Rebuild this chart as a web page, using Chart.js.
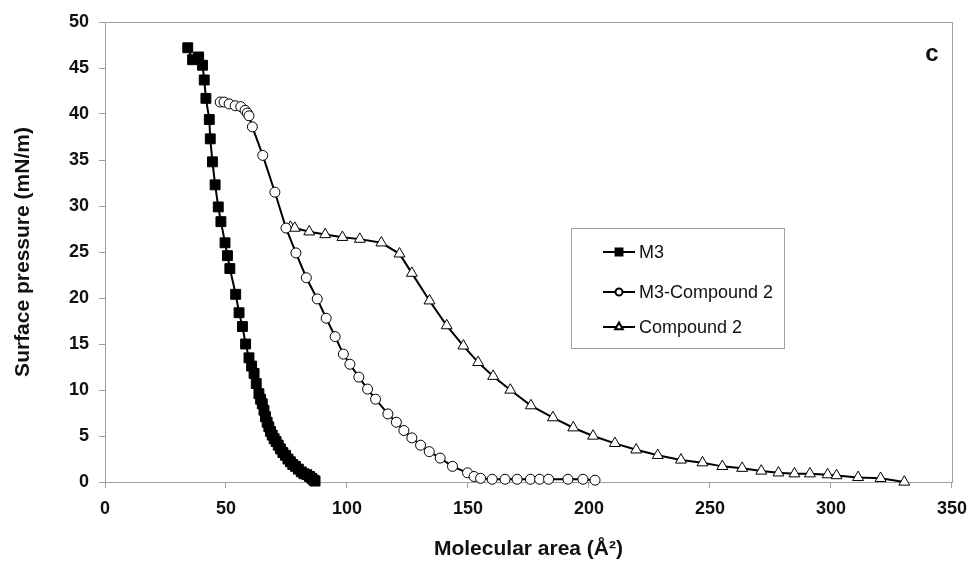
<!DOCTYPE html>
<html>
<head>
<meta charset="utf-8">
<script src="https://cdn.jsdelivr.net/npm/chart.js@4.4.1/dist/chart.umd.min.js"></script>
<style>
  html, body { margin: 0; padding: 0; background: #fff; }
  #wrap { width: 977px; height: 562px; }
</style>
</head>
<body>
<div id="wrap"><canvas id="isotherm"></canvas></div>
<script>
// M3 (filled squares)
const m3Area = [34.2, 36.2, 38.7, 40.3, 41.0, 41.7, 43.1, 43.5, 44.4, 45.5, 46.8, 47.9, 49.6, 50.6, 51.6,
  54.0, 55.4, 56.8, 58.1, 59.5, 60.6, 61.6, 62.5, 63.6, 64.3, 65.0, 65.7, 66.3, 67.0, 67.7, 68.4, 69.1,
  69.9, 70.7, 71.6, 72.5, 73.5, 74.6, 75.6, 76.6, 77.6, 78.7, 79.9, 81.1, 82.2, 83.4, 84.5, 85.5, 86.3, 86.8];
const m3Pressure = [47.2, 45.9, 46.2, 45.3, 43.7, 41.7, 39.4, 37.3, 34.8, 32.3, 29.9, 28.3, 26.0, 24.6, 23.2,
  20.4, 18.4, 16.9, 15.0, 13.5, 12.6, 11.8, 10.7, 9.6, 9.0, 8.5, 7.8, 7.1, 6.5, 6.0, 5.5, 5.1,
  4.7, 4.4, 4.0, 3.6, 3.2, 2.9, 2.5, 2.2, 1.9, 1.7, 1.4, 1.1, 0.9, 0.8, 0.6, 0.4, 0.2, 0.1];

// M3-Compound 2 (open circles)
const mixArea = [47.6, 49.2, 51.3, 53.8, 56.1, 57.9, 58.8, 59.5, 60.9, 65.2, 70.2, 74.8, 78.9, 83.2, 87.7,
  91.4, 95.1, 98.5, 101.2, 104.9, 108.5, 111.8, 116.9, 120.4, 123.5, 126.8, 130.4, 134.0, 138.5,
  143.6, 149.8, 152.5, 155.2, 160.0, 165.3, 170.3, 175.8, 179.6, 183.3, 191.3, 197.5, 202.5];
const mixPressure = [41.3, 41.3, 41.1, 40.9, 40.8, 40.4, 40.1, 39.8, 38.6, 35.5, 31.5, 27.6, 24.9, 22.2, 19.9,
  17.8, 15.8, 13.9, 12.8, 11.4, 10.1, 9.0, 7.4, 6.5, 5.6, 4.8, 4.0, 3.3, 2.6,
  1.7, 1.0, 0.6, 0.4, 0.3, 0.3, 0.3, 0.3, 0.3, 0.3, 0.3, 0.3, 0.2];

// Compound 2 (open triangles)
const cmpArea = [76.6, 78.4, 84.4, 91.0, 98.1, 105.3, 114.2, 121.7, 126.8, 134.1, 141.2, 148.1, 154.2, 160.4,
  167.5, 176.0, 185.1, 193.5, 201.7, 210.7, 219.5, 228.4, 238.0, 246.9, 255.1, 263.3, 271.2, 278.3,
  284.9, 291.3, 298.6, 302.3, 311.2, 320.5, 330.3];
const cmpPressure = [27.7, 27.6, 27.2, 26.9, 26.6, 26.4, 26.0, 24.8, 22.7, 19.7, 17.0, 14.8, 13.0, 11.5,
  10.0, 8.3, 7.0, 5.9, 5.0, 4.2, 3.5, 2.9, 2.4, 2.1, 1.7, 1.5, 1.2, 1.0,
  0.9, 0.9, 0.8, 0.7, 0.5, 0.4, 0.0];

const seriesNames = ['M3', 'M3-Compound 2', 'Compound 2'];

const toPoints = (xs, ys) => xs.map((x, i) => ({ x: x, y: ys[i] }));

const GRAY = '#a0a0a0';
const FONT = "'Liberation Sans', Arial, sans-serif";

// outer box of the plot area
const plotFrame = {
  id: 'plotFrame',
  beforeDatasetsDraw(chart) {
    const { ctx, chartArea: a } = chart;
    ctx.save();
    ctx.strokeStyle = GRAY;
    ctx.lineWidth = 1;
    ctx.strokeRect(a.left + 0.5, a.top + 0.5, a.right - a.left, a.bottom - a.top);
    ctx.restore();
  }
};

// boxed legend inside the plot, plus the panel letter
const boxLegend = {
  id: 'boxLegend',
  afterDraw(chart) {
    const ctx = chart.ctx;
    ctx.save();
    ctx.strokeStyle = GRAY;
    ctx.lineWidth = 1;
    ctx.fillStyle = '#fff';
    ctx.fillRect(571.5, 228.5, 213, 120);
    ctx.strokeRect(571.5, 228.5, 213, 120);
    const rows = [252, 292, 327];
    ctx.font = '18px ' + FONT;
    ctx.textBaseline = 'middle';
    chart.data.datasets.forEach((ds, i) => {
      const y = rows[i];
      ctx.strokeStyle = '#000';
      ctx.lineWidth = 2;
      ctx.beginPath();
      ctx.moveTo(603, y);
      ctx.lineTo(635, y);
      ctx.stroke();
      ctx.fillStyle = ds.pointBackgroundColor;
      ctx.strokeStyle = '#000';
      Chart.helpers.drawPoint(ctx, {
        pointStyle: ds.pointStyle,
        radius: ds.pointRadius * 0.7,
        rotation: 0,
        borderWidth: 1
      }, 619, y);
      ctx.fillStyle = '#111';
      ctx.fillText(ds.label, 639, y + 1);
    });
    ctx.font = 'bold 24px ' + FONT;
    ctx.fillStyle = '#111';
    ctx.textAlign = 'center';
    ctx.fillText('c', 932, 54);
    ctx.restore();
  }
};

const data = {
  datasets: [
    {
      label: seriesNames[0],
      data: toPoints(m3Area, m3Pressure),
      borderColor: '#000',
      borderWidth: 2,
      pointStyle: 'rect',
      pointRadius: 7,
      pointBackgroundColor: '#000',
      pointBorderColor: '#000',
      pointBorderWidth: 1
    },
    {
      label: seriesNames[1],
      data: toPoints(mixArea, mixPressure),
      borderColor: '#000',
      borderWidth: 2,
      pointStyle: 'circle',
      pointRadius: 5,
      pointBackgroundColor: '#fff',
      pointBorderColor: '#000',
      pointBorderWidth: 1
    },
    {
      label: seriesNames[2],
      data: toPoints(cmpArea, cmpPressure),
      borderColor: '#000',
      borderWidth: 2,
      pointStyle: 'triangle',
      pointRadius: 6.3,
      pointBackgroundColor: '#fff',
      pointBorderColor: '#000',
      pointBorderWidth: 1
    }
  ]
};

const config = {
  type: 'line',
  data: data,
  options: {
    responsive: true,
    maintainAspectRatio: false,
    animation: false,
    devicePixelRatio: 1,
    layout: { padding: { top: 22, right: 18, left: 0, bottom: 0 } },
    elements: { line: { tension: 0 } },
    datasets: { line: { clip: false } },
    plugins: {
      legend: { display: false },
      tooltip: { enabled: false }
    },
    scales: {
      x: {
        type: 'linear',
        min: 0,
        max: 350,
        afterFit: (s) => { s.height = 80; },
        border: { display: true, color: GRAY, width: 1 },
        grid: { drawOnChartArea: false, drawTicks: true, tickLength: 6, color: GRAY },
        ticks: {
          stepSize: 50,
          padding: 10,
          color: '#111',
          font: { family: FONT, size: 18, weight: 'bold' }
        },
        title: {
          display: true,
          text: 'Molecular area (Å²)',
          color: '#111',
          padding: { top: 0, bottom: 0 },
          font: { family: FONT, size: 21, weight: 'bold' }
        }
      },
      y: {
        min: 0,
        max: 50,
        afterFit: (s) => { s.width = 105; },
        border: { display: true, color: GRAY, width: 1 },
        grid: { drawOnChartArea: false, drawTicks: true, tickLength: 6, color: GRAY },
        ticks: {
          stepSize: 5,
          padding: 10,
          color: '#111',
          font: { family: FONT, size: 18, weight: 'bold' }
        },
        title: {
          display: true,
          text: 'Surface pressure (mN/m)',
          color: '#111',
          padding: { top: 11, bottom: 0 },
          font: { family: FONT, size: 21, weight: 'bold' }
        }
      }
    }
  },
  plugins: [plotFrame, boxLegend]
};

const isothermChart = new Chart(document.getElementById('isotherm'), config);
</script>
</body>
</html>
